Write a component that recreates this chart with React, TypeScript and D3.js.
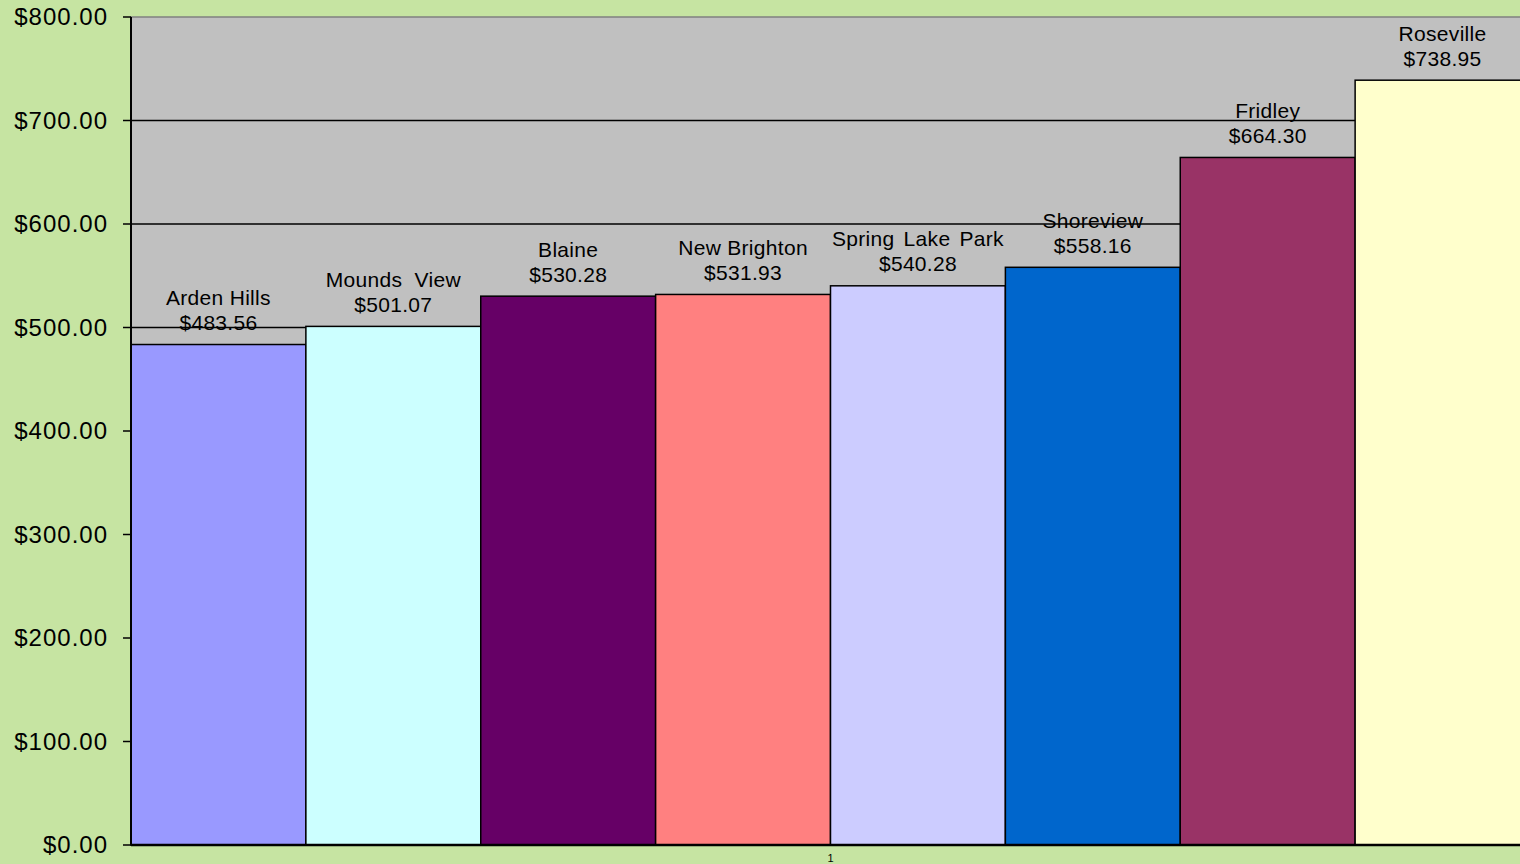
import React from "react";
import * as d3 from "d3";

const cities = ["Arden Hills", "Mounds  View", "Blaine", "New Brighton", "Spring Lake Park", "Shoreview", "Fridley", "Roseville"];
const values = [483.56, 501.07, 530.28, 531.93, 540.28, 558.16, 664.3, 738.95];
const colors = ["#9999FF", "#CCFFFF", "#660066", "#FF8080", "#CCCCFF", "#0066CC", "#993366", "#FFFFCC"];
const yTicks = [0, 100, 200, 300, 400, 500, 600, 700, 800];
const categoryLabel = "1";

const W = 1520;
const H = 864;
const left = 131;
const right = 1530;
const top = 17;
const bottom = 845;

export default function App() {
  const x = d3.scaleBand<string>().domain(cities).range([left, right]).padding(0);
  const y = d3.scaleLinear().domain([0, 800]).range([bottom, top]);
  const fmt = (v: number) => "$" + d3.format(",.2f")(v);
  const font = "'Liberation Sans', Arial, sans-serif";

  return (
    <div style={{ position: "fixed", left: 0, top: 0 }}>
      <svg width={W} height={H} style={{ display: "block" }}>
        <rect x={0} y={0} width={W} height={H} fill="#C6E4A2" />
        <rect x={left} y={top} width={W - left + 20} height={bottom - top} fill="#C0C0C0" stroke="#808080" strokeWidth={1.5} />
        {yTicks.filter((t) => t > 0 && t < 800).map((t) => (
          <line key={"g" + t} x1={left} x2={W + 10} y1={y(t)} y2={y(t)} stroke="#000" strokeWidth={1.5} />
        ))}
        {cities.map((c, i) => (
          <rect
            key={c}
            x={x(c)!}
            y={y(values[i])}
            width={x.bandwidth()}
            height={y(0) - y(values[i])}
            fill={colors[i]}
            stroke="#000"
            strokeWidth={1.5}
          />
        ))}
        {cities.map((c, i) => {
          const cx = x(c)! + x.bandwidth() / 2;
          const base = y(values[i]) - 14.5;
          return (
            <g key={"l" + c} fontFamily={font} fontSize={21} letterSpacing={0.3} fill="#000" textAnchor="middle">
              <text x={cx} y={base - 25} style={{ whiteSpace: "pre" }} wordSpacing={i === 4 ? 3 : 0}>{c}</text>
              <text x={cx} y={base}>{fmt(values[i])}</text>
            </g>
          );
        })}
        <line x1={left} x2={left} y1={top} y2={bottom} stroke="#000" strokeWidth={2} />
        <line x1={left} x2={W + 10} y1={bottom} y2={bottom} stroke="#000" strokeWidth={2.5} />
        {yTicks.map((t) => (
          <g key={"t" + t}>
            <line x1={left - 8} x2={left} y1={y(t)} y2={y(t)} stroke="#000" strokeWidth={1.5} />
            <text x={108} y={y(t)} dy="0.35em" textAnchor="end" fontFamily={font} fontSize={24} letterSpacing={1} fill="#000">
              {fmt(t)}
            </text>
          </g>
        ))}
        <text x={(left + right) / 2} y={862} textAnchor="middle" fontFamily={font} fontSize={11} fill="#000">
          {categoryLabel}
        </text>
      </svg>
    </div>
  );
}
